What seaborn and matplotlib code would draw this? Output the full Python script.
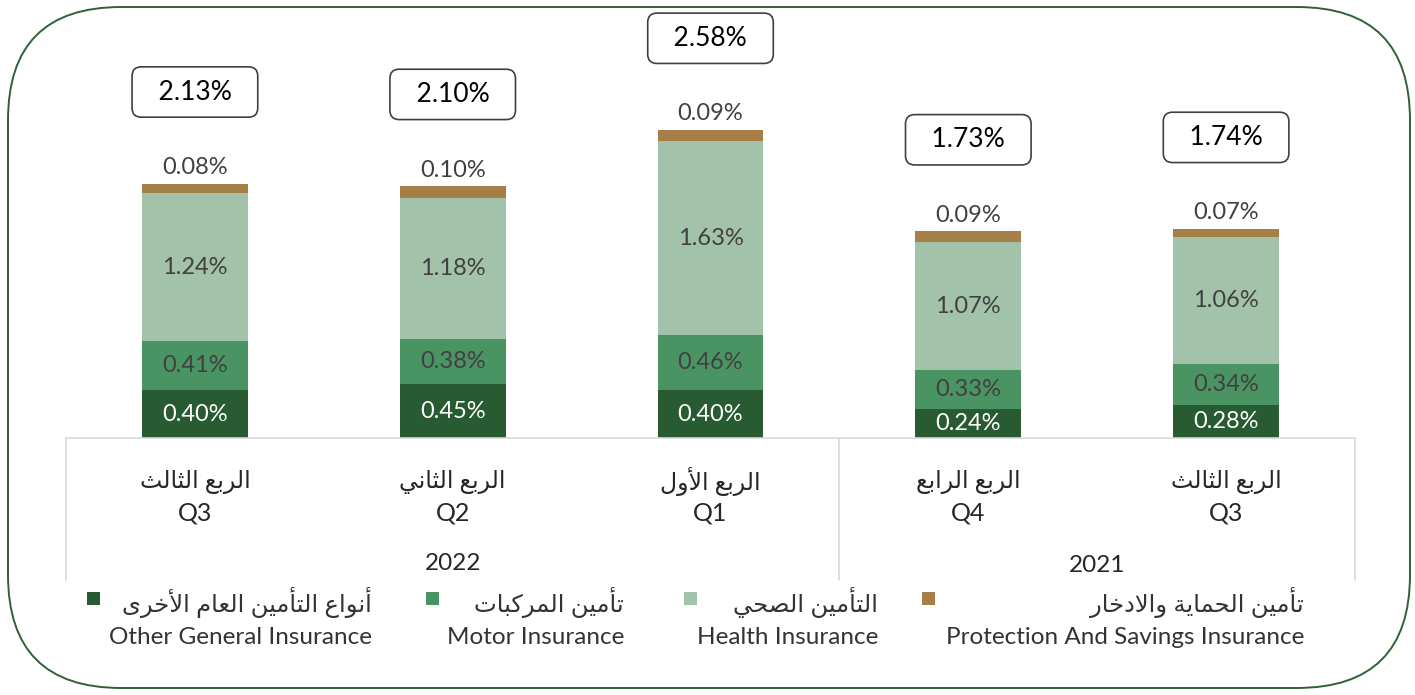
import matplotlib
matplotlib.use("Agg")
import matplotlib.pyplot as plt
import matplotlib.transforms as mtransforms
from matplotlib.patches import FancyBboxPatch, Rectangle
from matplotlib.lines import Line2D
import numpy as np
import pandas as pd
import seaborn as sns

# ---------------- data ----------------
periods = ["Q3 2022", "Q2 2022", "Q1 2022", "Q4 2021", "Q3 2021"]
quarter_codes = ["Q3", "Q2", "Q1", "Q4", "Q3"]
quarter_ar = ["الربع الثالث", "الربع الثاني", "الربع الأول", "الربع الرابع", "الربع الثالث"]
years = ["2022", "2021"]

other_general = [0.40, 0.45, 0.40, 0.24, 0.28]
motor = [0.41, 0.38, 0.46, 0.33, 0.34]
health = [1.24, 1.18, 1.63, 1.07, 1.06]
protection = [0.08, 0.10, 0.09, 0.09, 0.07]
totals = [2.13, 2.10, 2.58, 1.73, 1.74]

series_en = ["Other General Insurance", "Motor Insurance", "Health Insurance",
             "Protection And Savings Insurance"]
series_ar = ["أنواع التأمين العام الأخرى", "تأمين المركبات", "التأمين الصحي",
             "تأمين الحماية والادخار"]
colors = ["#285B32", "#4A9463", "#A3C2AA", "#A57E48"]

# ---------------- minimal Arabic shaping (presentation forms) ----------------
FORMS = {
    "ا": (0xFE8D, 0xFE8E), "أ": (0xFE83, 0xFE84),
    "ب": (0xFE8F, 0xFE90, 0xFE91, 0xFE92), "ة": (0xFE93, 0xFE94),
    "ت": (0xFE95, 0xFE96, 0xFE97, 0xFE98), "ث": (0xFE99, 0xFE9A, 0xFE9B, 0xFE9C),
    "ح": (0xFEA1, 0xFEA2, 0xFEA3, 0xFEA4), "خ": (0xFEA5, 0xFEA6, 0xFEA7, 0xFEA8),
    "د": (0xFEA9, 0xFEAA), "ر": (0xFEAD, 0xFEAE),
    "ص": (0xFEB9, 0xFEBA, 0xFEBB, 0xFEBC), "ع": (0xFEC9, 0xFECA, 0xFECB, 0xFECC),
    "ك": (0xFED9, 0xFEDA, 0xFEDB, 0xFEDC), "ل": (0xFEDD, 0xFEDE, 0xFEDF, 0xFEE0),
    "م": (0xFEE1, 0xFEE2, 0xFEE3, 0xFEE4), "ن": (0xFEE5, 0xFEE6, 0xFEE7, 0xFEE8),
    "و": (0xFEED, 0xFEEE), "ى": (0xFEEF, 0xFEF0),
    "ي": (0xFEF1, 0xFEF2, 0xFEF3, 0xFEF4),
}
LAMALEF = {"ا": (0xFEFB, 0xFEFC), "أ": (0xFEF7, 0xFEF8)}


def shape(text):
    out = []
    ch = list(text)
    i = 0
    while i < len(ch):
        c = ch[i]
        if c not in FORMS:
            out.append(c)
            i += 1
            continue
        prev = ch[i - 1] if i > 0 else None
        prev_joins = prev in FORMS and len(FORMS[prev]) == 4
        if c == "ل" and i + 1 < len(ch) and ch[i + 1] in LAMALEF:
            f = LAMALEF[ch[i + 1]]
            out.append(chr(f[1] if prev_joins else f[0]))
            i += 2
            continue
        nxt = ch[i + 1] if i + 1 < len(ch) else None
        f = FORMS[c]
        next_joins = len(f) == 4 and nxt in FORMS
        if prev_joins and next_joins:
            g = f[3]
        elif prev_joins:
            g = f[1]
        elif next_joins:
            g = f[2]
        else:
            g = f[0]
        out.append(chr(g))
        i += 1
    return "".join(out)[::-1]


# ---------------- style ----------------
sns.set_style("white")
FAM = ["Lato", "DejaVu Sans"]
plt.rcParams["font.family"] = FAM

W, H = 1415, 695
fig = plt.figure(figsize=(W / 100, H / 100), dpi=100)

# rounded outer frame
frame = FancyBboxPatch((8 / W, 7 / H), (1402) / W, (681) / H,
                       boxstyle="round,pad=0,rounding_size=0.08",
                       mutation_aspect=W / H,
                       transform=fig.transFigure, facecolor="none",
                       edgecolor="#2F6136", linewidth=1.4, zorder=0)
fig.patches.append(frame)

ax_left, ax_right, ax_base = 66, 1355, 438
ax = fig.add_axes([ax_left / W, (H - ax_base) / H, (ax_right - ax_left) / W, ax_base / H])
ax.set_facecolor("none")

df = pd.DataFrame({"period": periods, "other": other_general, "motor": motor,
                   "health": health, "protection": protection})
cols = ["other", "motor", "health", "protection"]
bottom = np.zeros(len(periods))
for col, colr in zip(cols, colors):
    sns.barplot(data=df, x="period", y=col, order=periods, bottom=bottom,
                color=colr, saturation=1, width=0.41, errorbar=None,
                linewidth=0, edgecolor="none", ax=ax)
    vals = df[col].to_numpy()
    for i, v in enumerate(vals):
        if col == "protection":
            ax.annotate(f"{v:.2f}%", (i, bottom[i] + v), xytext=(0, 4),
                        textcoords="offset points", ha="center", va="bottom",
                        fontsize=17, color="#404040")
        else:
            ax.text(i, bottom[i] + v / 2, f"{v:.2f}%", ha="center", va="center",
                    fontsize=17, color="white" if col == "other" else "#404040")
    bottom = bottom + vals

# total boxes
for i, t in enumerate(totals):
    ax.annotate(f"  {t:.2f}%  ", (i, bottom[i]), xytext=(0, 66),
                textcoords="offset points", ha="center", va="center",
                fontsize=19, color="black",
                bbox=dict(boxstyle="round,pad=0.48,rounding_size=0.35",
                          facecolor="white", edgecolor="#404040", linewidth=1.2))

ax.set_xlim(-0.5, 4.5)
ax.set_ylim(0, ax_base / 119.4)
ax.set_xlabel("")
ax.set_ylabel("")
ax.set_xticks([])
ax.set_yticks([])
for s in ["top", "left", "right"]:
    ax.spines[s].set_visible(False)
ax.spines["bottom"].set_color("#D9D9D9")
ax.spines["bottom"].set_linewidth(1.2)

# category labels (multi-level axis)
trans = mtransforms.blended_transform_factory(ax.transData, ax.transAxes)
for i in range(len(periods)):
    ax.text(i, -0.100, shape(quarter_ar[i]), transform=trans, ha="center",
            va="center", fontsize=17, color="#262626")
    ax.text(i, -0.172, quarter_codes[i], transform=trans, ha="center",
            va="center", fontsize=18, color="#262626")
ax.text(1, -0.287, years[0], transform=trans, ha="center", va="center",
        fontsize=17.5, color="#262626")
ax.text(3.5, -0.292, years[1], transform=trans, ha="center", va="center",
        fontsize=17.5, color="#262626")
for xv in [-0.5, 2.5, 4.5]:
    ax.add_line(Line2D([xv, xv], [0, -0.324], transform=trans, color="#D9D9D9",
                       linewidth=1.2, clip_on=False))

# legend (drawn manually: square on the left, two-line right-aligned text)
sq_x = [93, 432, 690, 928]
txt_right = [372, 624, 878, 1304]
sq = 13
for k in range(4):
    fig.patches.append(Rectangle(((sq_x[k] - sq / 2) / W, 1 - (598 + sq / 2) / H),
                                 sq / W, sq / H, transform=fig.transFigure,
                                 facecolor=colors[k], edgecolor="none"))
    fig.text(txt_right[k] / W, 1 - 603 / H, shape(series_ar[k]), ha="right",
             va="center", fontsize=17.5, color="#333333")
    fig.text(txt_right[k] / W, 1 - 637 / H, series_en[k], ha="right",
             va="center", fontsize=17.5, color="#333333")

fig.savefig("out.png", dpi=100)
